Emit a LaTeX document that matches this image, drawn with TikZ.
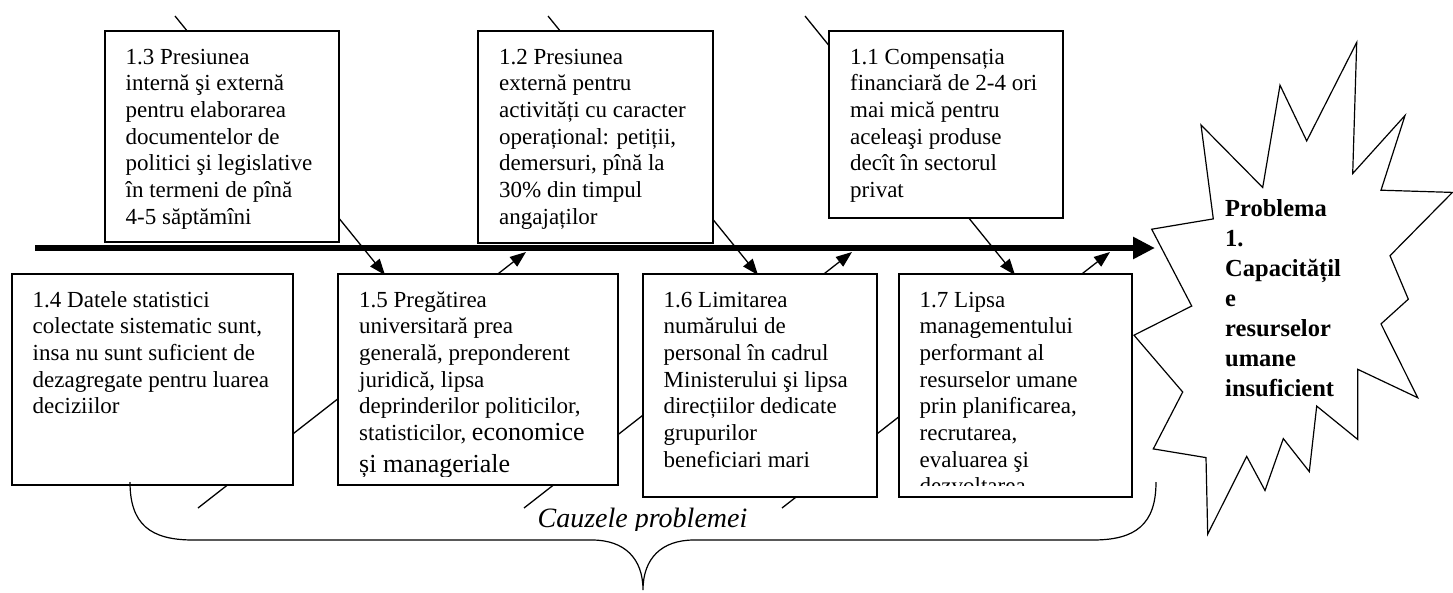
\documentclass[tikz,border=0pt]{standalone}
\usepackage{fontspec}
\setmainfont{Liberation Serif}
\newfontfamily\largeserif{Liberation Serif}
\usetikzlibrary{arrows.meta}
% lines of a cause box, first baseline = node baseline
\newcommand\boxlines[1]{\begin{tabular}[t]{@{}l@{}}#1\end{tabular}}
\newcommand\biggertext{\largeserif\fontsize{26}{31}\selectfont}

\begin{document}
\begin{tikzpicture}[x=1pt,y=-1pt,
  causebox/.style={draw, fill=white, line width=1.3pt, rectangle, anchor=north west,
    inner sep=0pt, outer sep=0pt},
  causetext/.style={anchor=base west, inner sep=0pt, font=\fontsize{23}{26.7}\selectfont},
  causearrow/.style={line width=1.3pt, -{Triangle[length=16pt,width=12pt]}},
  spinearrow/.style={line width=5.5pt, -{Triangle[length=22pt,width=21pt]}},
  thinline/.style={line width=1.2pt}]

\useasboundingbox (0,0) rectangle (1453,592);

% --- bones above the spine (drawn first, boxes cover them) ---
\coordinate (s13) at (175,16);  \coordinate (e13) at (385,275);
\coordinate (s12) at (548,16);  \coordinate (e12) at (758,275);
\coordinate (s11) at (805,16);  \coordinate (e11) at (1015,275);
\draw[causearrow] (s13) -- (e13);
\draw[causearrow] (s12) -- (e12);
\draw[causearrow] (s11) -- (e11);

% --- bones below the spine ---
\coordinate (s14) at (198,508); \coordinate (e14) at (526,252);
\coordinate (s15) at (524,508); \coordinate (e15) at (852,252);
\coordinate (s16) at (782,508); \coordinate (e16) at (1110,252);
\draw[causearrow] (s14) -- (e14);
\draw[causearrow] (s15) -- (e15);
\draw[causearrow] (s16) -- (e16);

% --- upper cause boxes ---
\node[causebox, minimum width=234pt, minimum height=211pt] (b13) at (105,31) {};
\node[causetext] (t13) at (125.5,64) {\boxlines{1.3 Presiunea\\ internă şi externă\\ pentru elaborarea\\ documentelor de\\ politici şi legislative\\ în termeni de pînă\\ 4-5 săptămîni}};

\node[causebox, minimum width=235pt, minimum height=212pt] (b12) at (478,31) {};
\node[causetext] (t12) at (499,64) {\boxlines{1.2 Presiunea\\ externă pentru\\ activități cu caracter\\ operațional: petiții,\\ demersuri, pînă la\\ 30\% din timpul\\ angajaților}};

\node[causebox, minimum width=234pt, minimum height=187pt] (b11) at (829,31) {};
\node[causetext] (t11) at (850,64) {\boxlines{1.1 Compensația\\ financiară de 2-4 ori\\ mai mică pentru\\ aceleaşi produse\\ decît în sectorul\\ privat}};

% --- lower cause boxes ---
\node[causebox, minimum width=281pt, minimum height=211pt] (b14) at (12,274) {};
\node[causetext] (t14) at (32.5,307) {\boxlines{1.4 Datele statistici\\ colectate sistematic sunt,\\ insa nu sunt suficient de\\ dezagregate pentru luarea\\ deciziilor}};

\node[causebox, minimum width=280pt, minimum height=211pt] (b15) at (338,274) {};
\begin{scope}
  \clip (338,274) rectangle (618,476);
  \node[causetext] (t15) at (359,307) {\boxlines{1.5 Pregătirea\\ universitară prea\\ generală, preponderent\\ juridică, lipsa\\ deprinderilor politicilor,\\ statisticilor, {\biggertext economice}\\[5pt] {\biggertext și manageriale}}};
\end{scope}

\node[causebox, minimum width=234pt, minimum height=223pt] (b16) at (643,274) {};
\node[causetext] (t16) at (663.5,307) {\boxlines{1.6 Limitarea\\ numărului de\\ personal în cadrul\\ Ministerului şi lipsa\\ direcțiilor dedicate\\ grupurilor\\ beneficiari mari}};

\node[causebox, minimum width=233pt, minimum height=223pt] (b17) at (899,274) {};
\begin{scope}
  \clip (899,274) rectangle (1132,485);
  \node[causetext] (t17) at (919.5,307) {\boxlines{1.7 Lipsa\\ managementului\\ performant al\\ resurselor umane\\ prin planificarea,\\ recrutarea,\\ evaluarea şi\\ dezvoltarea}};
\end{scope}

% --- spine ---
\coordinate (spA) at (35,248);
\coordinate (spB) at (1155,248);
\draw[spinearrow] (spA) -- (spB);

% --- problem burst ---
\draw[thinline, fill=white, line join=miter]
  (1151.7,229.2) -- (1213.3,218.9) -- (1201,125) -- (1262.7,187.5)
  -- (1280,85.2) -- (1306.7,140.9) -- (1356.7,42.4) -- (1352.7,173.5)
  -- (1405,115.5) -- (1381,190.2) -- (1452.4,192.4) -- (1390,255.7)
  -- (1408.3,299.2) -- (1381,323.9) -- (1417.7,397.7) -- (1357.7,369.3)
  -- (1357.7,439.4) -- (1316.7,406.1) -- (1309.3,471.6) -- (1283.3,438.6)
  -- (1265,490.5) -- (1246.7,456.4) -- (1207.7,534.1) -- (1206,457.6)
  -- (1153.3,448.9) -- (1182.7,392) -- (1134,335.2) -- (1191.7,306) -- cycle;
\node[anchor=base west, inner sep=0pt, font=\fontsize{24.5}{30}\selectfont\bfseries] (prob) at (1225,216)
  {\boxlines{Problema\\ 1.\\ Capacitățil\\ e\\ resurselor\\ umane\\ insuficient}};

% --- brace grouping the causes ---
\coordinate (brL) at (130,482);
\coordinate (brM) at (643,590);
\coordinate (brR) at (1156,482);
\draw[thinline] (brL) .. controls (130,524) and (150,540) .. (193,540)
  -- (592,540) .. controls (624,540) and (643,558) .. (brM)
  .. controls (643,558) and (662,540) .. (694,540)
  -- (1093,540) .. controls (1136,540) and (1156,524) .. (brR);
\begin{scope}
  \clip (400,490) rectangle (900,530);
  \node[anchor=base, inner sep=0pt, font=\fontsize{28}{30}\selectfont\itshape] (lbl) at (642.5,527) {Cauzele problemei};
\end{scope}

\end{tikzpicture}
\end{document}
